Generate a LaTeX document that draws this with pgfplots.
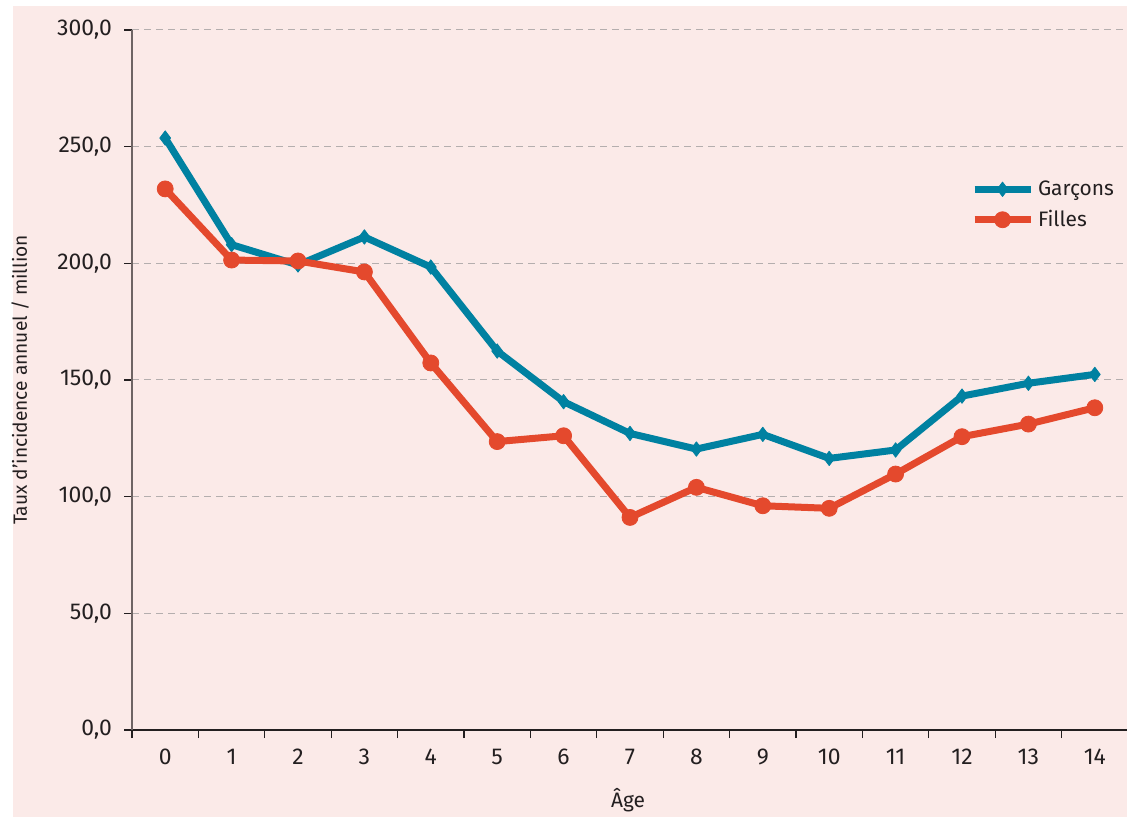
\documentclass[border=0pt]{standalone}
\usepackage{pgfplots}
\pgfplotsset{compat=1.18}
\usepackage{fontspec}
\setmainfont{Fira Sans}
\definecolor{bg}{RGB}{251,234,232}
\definecolor{gcol}{RGB}{0,129,161}
\definecolor{fcol}{RGB}{228,73,45}
\definecolor{gridc}{RGB}{180,174,174}
\definecolor{txt}{RGB}{35,31,32}
\definecolor{yax}{RGB}{110,100,100}
\begin{document}
\begin{tikzpicture}
\fill[white] (0,0) rectangle (563.5bp,409.5bp);
\fill[bg] (6.5bp,1bp) rectangle (563.5bp,406.5bp);
\begin{axis}[
  at={(66bp,44.5bp)}, anchor=south west,
  scale only axis, width=498bp, height=350bp,
  xmin=-0.5, xmax=14.5, ymin=0, ymax=300,
  axis x line*=bottom, axis y line*=left,
  x axis line style={draw=txt, line width=0.7bp},
  y axis line style={draw=yax, line width=0.7bp},
  xtick={-0.5,0.5,1.5,2.5,3.5,4.5,5.5,6.5,7.5,8.5,9.5,10.5,11.5,12.5,13.5,14.5},
  x tick label as interval,
  xticklabels={0,1,2,3,4,5,6,7,8,9,10,11,12,13,14},
  ytick={0,50,...,300},
  tick align=outside, major tick length=4bp,
  tick style={draw=txt, line width=0.6bp},
  minor tick num=0,
  ymajorgrids,
  major grid style={dash pattern=on 3.5bp off 2.5bp, draw=gridc, line width=0.5bp},
  tick label style={font=\fontsize{11.5}{13}\selectfont, text=txt},
  y tick label style={/pgf/number format/fixed, /pgf/number format/fixed zerofill,
    /pgf/number format/precision=1, /pgf/number format/use comma,
    /pgf/number format/assume math mode=true, xshift=-2.5bp},
  x tick label style={yshift=-2bp},
  ylabel={Taux d'incidence annuel / million},
  ylabel style={at={(axis description cs:-0.1124,0.5)}, anchor=center, font=\fontsize{9.6}{11}\selectfont, text=txt},
  xlabel={Âge},
  xlabel style={at={(axis description cs:0.498,-0.1)}, anchor=center, font=\fontsize{10.5}{12}\selectfont, text=txt},
  legend style={at={(rel axis cs:0.836,0.797)}, anchor=north west, draw=none, fill=none,
    font=\fontsize{10.5}{12}\selectfont, text=txt, row sep=2bp},
  legend cell align=left,
  legend image code/.code={\draw[mark repeat=2,mark phase=2,#1] plot coordinates {(0bp,0bp) (14bp,0bp) (28bp,0bp)};},
]
\addplot[gcol, line width=3.5bp, line join=round, mark=diamond*, mark size=3.6bp, mark options={solid, line width=0.4bp}] coordinates {
(0,253.7) (1,208.0) (2,199.3) (3,211.3) (4,198.4) (5,162.4) (6,140.7) (7,127.1)
(8,120.4) (9,126.7) (10,116.4) (11,120.0) (12,143.1) (13,148.6) (14,152.4)};
\addlegendentry{Garçons}
\addplot[fcol, line width=3.5bp, line join=round, mark=*, mark size=4bp, mark options={solid, line width=0.4bp}] coordinates {
(0,231.9) (1,201.4) (2,201.0) (3,196.3) (4,157.3) (5,123.6) (6,126.1) (7,91.1)
(8,104.0) (9,96.1) (10,95.0) (11,109.7) (12,125.7) (13,131.1) (14,138.1)};
\addlegendentry{Filles}
\end{axis}
\pgfresetboundingbox
\useasboundingbox (0,0) rectangle (563.5bp,409.5bp);
\end{tikzpicture}
\end{document}
